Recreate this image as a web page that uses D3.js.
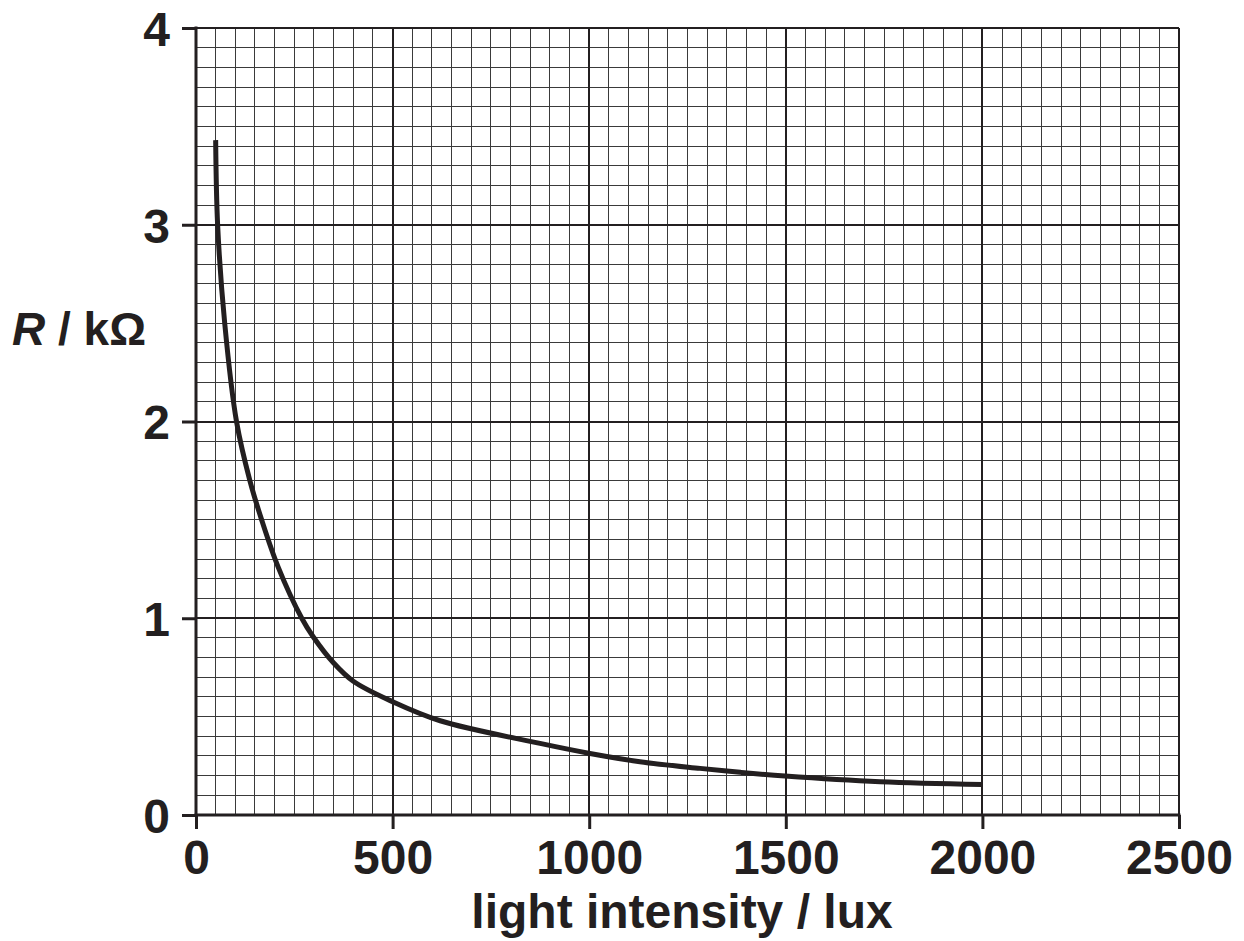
<!DOCTYPE html>
<html>
<head>
<meta charset="utf-8">
<script src="https://cdn.jsdelivr.net/npm/d3@7"></script>
<style>
  body { margin: 0; background: #fff; }
  text { font-family: "Liberation Sans", Arial, sans-serif; font-weight: bold; fill: #231f20; }
</style>
</head>
<body>
<svg width="1244" height="941"></svg>
<script>
// values
var lux = [50, 55, 73, 103, 137, 167, 209, 269, 298, 349, 400, 500, 621, 875, 1002, 1129, 1282, 1384, 1498, 1740, 2000];
var resistance = [3.43, 3.0, 2.5, 2.0, 1.70, 1.50, 1.26, 1.0, 0.906, 0.775, 0.68, 0.576, 0.479, 0.364, 0.313, 0.271, 0.237, 0.217, 0.198, 0.169, 0.155];
var xTicks = [0, 500, 1000, 1500, 2000, 2500];
var yTicks = [0, 1, 2, 3, 4];

var ink = '#231f20';
var svg = d3.select('svg');

var x = d3.scaleLinear().domain([0, 2500]).range([196, 1179]);
var y = d3.scaleLinear().domain([0, 4]).range([815, 28]);

var grid = svg.append('g').attr('shape-rendering', 'crispEdges');

// minor grid, every 50 lux and 0.1 kOhm
grid.selectAll('.vminor')
    .data(d3.range(50, 2500, 50).filter(function(d) { return d % 500 !== 0; }))
    .enter().append('line')
    .attr('x1', function(d) { return x(d); })
    .attr('x2', function(d) { return x(d); })
    .attr('y1', y(0)).attr('y2', y(4))
    .attr('stroke', '#3a3a3a').attr('stroke-width', 1);

grid.selectAll('.hminor')
    .data(d3.range(1, 40).filter(function(d) { return d % 10 !== 0; }).map(function(d) { return d / 10; }))
    .enter().append('line')
    .attr('y1', function(d) { return y(d); })
    .attr('y2', function(d) { return y(d); })
    .attr('x1', x(0)).attr('x2', x(2500))
    .attr('stroke', '#3a3a3a').attr('stroke-width', 1);

// major grid
grid.selectAll('.vmajor')
    .data(xTicks.slice(1))
    .enter().append('line')
    .attr('x1', function(d) { return x(d); })
    .attr('x2', function(d) { return x(d); })
    .attr('y1', y(0)).attr('y2', y(4))
    .attr('stroke', ink).attr('stroke-width', 2);

grid.selectAll('.hmajor')
    .data(yTicks.slice(1))
    .enter().append('line')
    .attr('y1', function(d) { return y(d); })
    .attr('y2', function(d) { return y(d); })
    .attr('x1', x(0)).attr('x2', x(2500))
    .attr('stroke', ink).attr('stroke-width', 2);

// axes
var xAxis = d3.axisBottom(x).tickValues(xTicks).tickFormat(d3.format('d')).tickSize(14).tickPadding(10);
var yAxis = d3.axisLeft(y).tickValues(yTicks).tickFormat(d3.format('d')).tickSize(14).tickPadding(12);

var gx = svg.append('g').attr('transform', 'translate(0,' + y(0) + ')').call(xAxis);
var gy = svg.append('g').attr('transform', 'translate(' + x(0) + ',0)').call(yAxis);

[gx, gy].forEach(function(g) {
    g.select('.domain').remove();
    g.selectAll('.tick line').attr('stroke', ink).attr('stroke-width', 3);
    g.selectAll('.tick text')
        .style('font-size', '48px')
        .style('font-family', '"Liberation Sans", Arial, sans-serif')
        .style('font-weight', 'bold')
        .attr('fill', ink);
});
gx.selectAll('.tick text').attr('dy', '0.72em');
gy.selectAll('.tick text').attr('dy', '0.36em');

svg.append('line')
    .attr('x1', x(0)).attr('x2', x(2500))
    .attr('y1', y(0)).attr('y2', y(0))
    .attr('stroke', ink).attr('stroke-width', 3)
    .attr('stroke-linecap', 'square');
svg.append('line')
    .attr('x1', x(0)).attr('x2', x(0))
    .attr('y1', y(0)).attr('y2', y(4))
    .attr('stroke', ink).attr('stroke-width', 3)
    .attr('stroke-linecap', 'square');

// curve
var points = lux.map(function(d, i) { return [d, resistance[i]]; });
var line = d3.line()
    .x(function(d) { return x(d[0]); })
    .y(function(d) { return y(d[1]); })
    .curve(d3.curveCatmullRom.alpha(0.5));

svg.append('path')
    .attr('d', line(points))
    .attr('fill', 'none')
    .attr('stroke', ink)
    .attr('stroke-width', 5);

// axis titles
svg.append('text')
    .attr('x', 682).attr('y', 928)
    .attr('text-anchor', 'middle')
    .style('font-size', '48px')
    .text('light intensity / lux');

var yt = svg.append('text')
    .attr('x', 12).attr('y', 345)
    .style('font-size', '46px');
yt.append('tspan').style('font-style', 'italic').text('R');
yt.append('tspan').text(' / kΩ');
</script>
</body>
</html>
